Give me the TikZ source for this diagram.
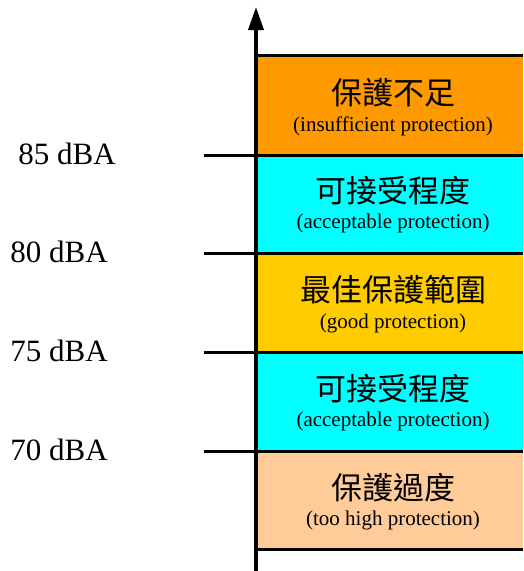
\documentclass[tikz,border=0pt]{standalone}
\usepackage{fontspec}
\setmainfont{Liberation Serif}
\newfontfamily\cjk{Noto Sans CJK TC}
\usetikzlibrary{arrows.meta}
\definecolor{cOrange}{HTML}{FF9900}
\definecolor{cCyan}{HTML}{00FFFF}
\definecolor{cGold}{HTML}{FFCC00}
\definecolor{cPeach}{HTML}{FFCC99}
\begin{document}
\begin{tikzpicture}[x=1pt,y=-1pt,
  band/.style={fill=#1, draw=none, minimum width=267pt, inner sep=0pt, outer sep=0pt, anchor=north west},
  zh/.style={font=\cjk\fontsize{31}{36}\selectfont, inner sep=0pt},
  en/.style={font=\fontsize{21}{25}\selectfont, inner sep=0pt},
  lvl/.style={font=\fontsize{31}{37}\selectfont, inner sep=0pt},
  rule/.style={line width=3pt},
  axisline/.style={line width=3.5pt, -{Triangle[length=23pt,width=15pt]}}]
\useasboundingbox (0,0) rectangle (523,571);
% level coordinates
\coordinate (t0) at (256,55);
\coordinate (t1) at (256,155);
\coordinate (t2) at (256,253);
\coordinate (t3) at (256,352);
\coordinate (t4) at (256,451);
\coordinate (t5) at (256,549);
\coordinate (r0) at (523,55);
\coordinate (r1) at (523,155);
\coordinate (r2) at (523,253);
\coordinate (r3) at (523,352);
\coordinate (r4) at (523,451);
\coordinate (r5) at (523,549);
\coordinate (l1) at (204,155);
\coordinate (l2) at (204,253);
\coordinate (l3) at (204,352);
\coordinate (l4) at (204,451);
\coordinate (abot) at (256,571);
\coordinate (atop) at (256,7);
% bands
\node[band=cOrange, minimum height=100pt] (b1) at (t0) {};
\node[band=cCyan,   minimum height=98pt]  (b2) at (t1) {};
\node[band=cGold,   minimum height=99pt]  (b3) at (t2) {};
\node[band=cCyan,   minimum height=99pt]  (b4) at (t3) {};
\node[band=cPeach,  minimum height=98pt]  (b5) at (t4) {};
% texts
\node[zh] (z1) at (393,93)  {保護不足};
\node[en] (e1) at (393,126) {(insufficient protection)};
\node[zh] (z2) at (393,191) {可接受程度};
\node[en] (e2) at (393,223) {(acceptable protection)};
\node[zh] (z3) at (393,290) {最佳保護範圍};
\node[en] (e3) at (393,323) {(good protection)};
\node[zh] (z4) at (393,389) {可接受程度};
\node[en] (e4) at (393,421) {(acceptable protection)};
\node[zh] (z5) at (393,488) {保護過度};
\node[en] (e5) at (393,520) {(too high protection)};
% rules
\draw[rule] (t0) -- (r0);
\draw[rule] (l1) -- (r1);
\draw[rule] (l2) -- (r2);
\draw[rule] (l3) -- (r3);
\draw[rule] (l4) -- (r4);
\draw[rule] (t5) -- (r5);
% axis
\draw[axisline] (abot) -- (atop);
% level labels
\node[lvl] (v85) at (67,154) {85 dBA};
\node[lvl] (v80) at (59,252) {80 dBA};
\node[lvl] (v75) at (59,351) {75 dBA};
\node[lvl] (v70) at (59,450) {70 dBA};
\end{tikzpicture}
\end{document}
